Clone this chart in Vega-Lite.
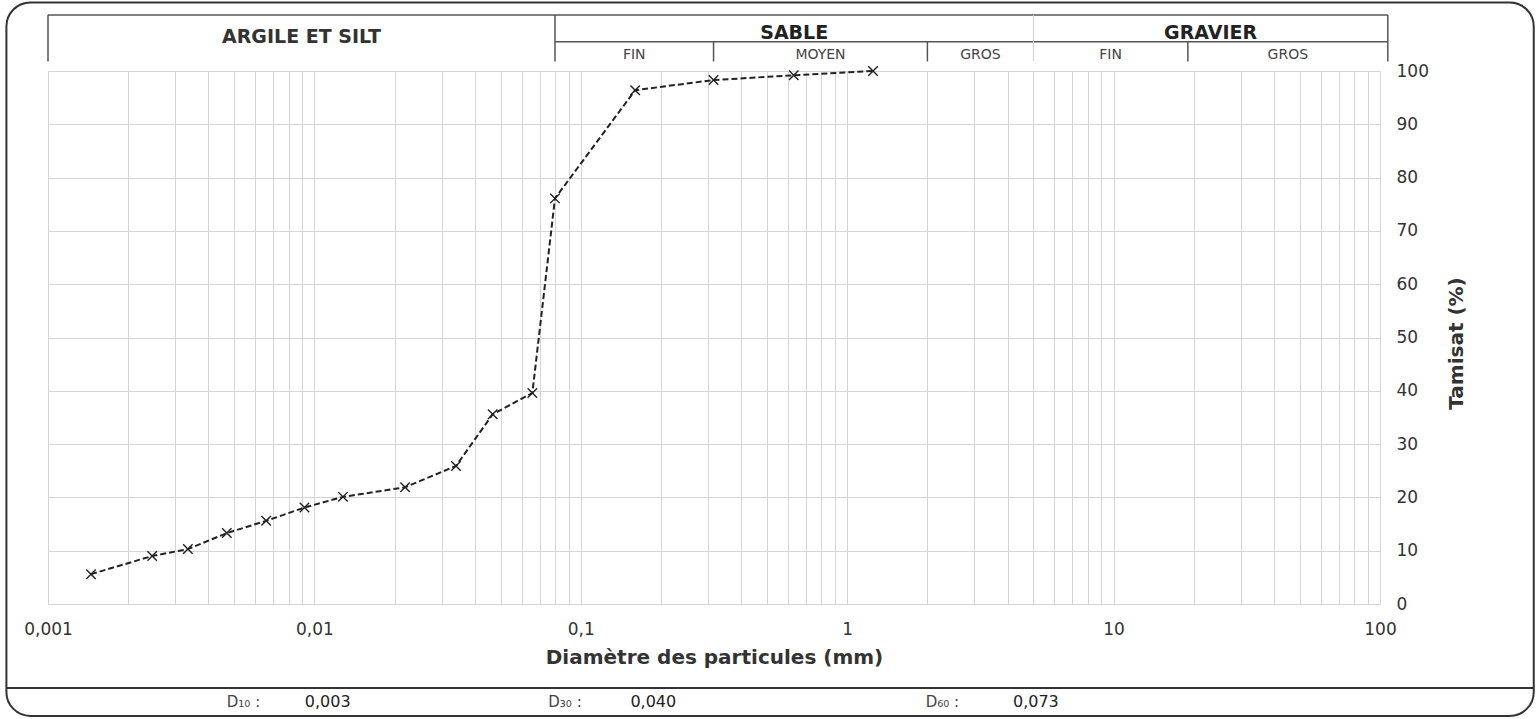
{
  "$schema": "https://vega.github.io/schema/vega-lite/v6.json",
  "width": 1332,
  "height": 533,
  "autosize": {"type": "none"},
  "padding": {"left": 48, "top": 71, "right": 159, "bottom": 115},
  "background": "white",
  "config": {
    "view": {"stroke": null},
    "font": "DejaVu Sans",
    "text": {"font": "DejaVu Sans", "color": "#333"}
  },
  "datasets": {
    "courbe": [
      {"d": 0.00145, "p": 5.6},
      {"d": 0.00246, "p": 9.0},
      {"d": 0.00335, "p": 10.3},
      {"d": 0.00469, "p": 13.3},
      {"d": 0.00659, "p": 15.6},
      {"d": 0.00918, "p": 18.1},
      {"d": 0.0128, "p": 20.1},
      {"d": 0.0219, "p": 21.9},
      {"d": 0.034, "p": 25.9},
      {"d": 0.0467, "p": 35.6},
      {"d": 0.0658, "p": 39.6},
      {"d": 0.08, "p": 76.1},
      {"d": 0.16, "p": 96.4},
      {"d": 0.315, "p": 98.3},
      {"d": 0.63, "p": 99.2},
      {"d": 1.25, "p": 100}
    ],
    "classes": [
      {"nom": "ARGILE ET SILT", "de": 0.001, "a": 0.08, "rang": "groupe"},
      {"nom": "SABLE", "de": 0.08, "a": 5, "rang": "groupe"},
      {"nom": "GRAVIER", "de": 5, "a": 107, "rang": "groupe"},
      {"nom": "FIN", "de": 0.08, "a": 0.315, "rang": "sous"},
      {"nom": "MOYEN", "de": 0.315, "a": 2, "rang": "sous"},
      {"nom": "GROS", "de": 2, "a": 5, "rang": "sous"},
      {"nom": "FIN", "de": 5, "a": 19, "rang": "sous"},
      {"nom": "GROS", "de": 19, "a": 107, "rang": "sous"}
    ],
    "limites": [
      {"d": 0.001, "type": "groupe"},
      {"d": 0.08, "type": "groupe"},
      {"d": 5, "type": "discret"},
      {"d": 107, "type": "groupe"},
      {"d": 0.315, "type": "sous"},
      {"d": 2, "type": "sous"},
      {"d": 19, "type": "sous"}
    ],
    "dvaleurs": [
      {"nom": "D₁₀ :", "valeur": "0,003", "pos": 0.00469, "posv": 0.0092},
      {"nom": "D₃₀ :", "valeur": "0,040", "pos": 0.0755, "posv": 0.1535},
      {"nom": "D₆₀ :", "valeur": "0,073", "pos": 1.97, "posv": 4.19}
    ],
    "un": [{}]
  },
  "layer": [
    {
      "data": {"name": "courbe"},
      "mark": {"type": "line", "color": "#222", "strokeWidth": 2, "strokeDash": [6, 3]},
      "encoding": {
        "x": {
          "field": "d", "type": "quantitative",
          "scale": {"type": "log", "domain": [0.001, 100], "nice": false},
          "axis": {
            "orient": "bottom",
            "values": [0.001,0.002,0.003,0.004,0.005,0.006,0.007,0.008,0.009,0.01,0.02,0.03,0.04,0.05,0.06,0.07,0.08,0.09,0.1,0.2,0.3,0.4,0.5,0.6,0.7,0.8,0.9,1,2,3,4,5,6,7,8,9,10,20,30,40,50,60,70,80,90,100],
            "labelExpr": "datum.value == 0.001 ? '0,001' : datum.value == 0.01 ? '0,01' : datum.value == 0.1 ? '0,1' : datum.value == 1 ? '1' : datum.value == 10 ? '10' : datum.value == 100 ? '100' : ''",
            "domain": false, "ticks": false,
            "grid": true, "gridColor": "#d4d4d4", "gridWidth": 1,
            "labelFont": "DejaVu Sans", "labelFontSize": 17, "labelColor": "#333",
            "labelPadding": 17, "labelOverlap": false, "labelFlush": false,
            "title": "Diamètre des particules (mm)",
            "titleFont": "DejaVu Sans", "titleFontSize": 20, "titleFontWeight": "bold",
            "titleColor": "#333", "titlePadding": 10
          }
        },
        "y": {
          "field": "p", "type": "quantitative",
          "scale": {"domain": [0, 100], "nice": false},
          "axis": {
            "orient": "right",
            "values": [0,10,20,30,40,50,60,70,80,90,100],
            "domain": false, "ticks": false,
            "grid": true, "gridColor": "#d4d4d4", "gridWidth": 1,
            "labelFont": "DejaVu Sans", "labelFontSize": 17, "labelColor": "#333",
            "labelPadding": 16,
            "title": "Tamisat (%)",
            "titleFont": "DejaVu Sans", "titleFontSize": 20, "titleFontWeight": "bold",
            "titleColor": "#333", "titleAngle": 270,
            "titleX": 76, "titleY": 272, "titleAlign": "center", "titleBaseline": "middle"
          }
        }
      }
    },
    {
      "data": {"name": "courbe"},
      "mark": {"type": "point", "shape": "M-1,-1L1,1M-1,1L1,-1", "filled": false, "size": 90, "stroke": "#222", "strokeWidth": 1.4, "opacity": 1},
      "encoding": {
        "x": {"field": "d", "type": "quantitative"},
        "y": {"field": "p", "type": "quantitative"}
      }
    },
    {
      "data": {"name": "un"},
      "mark": {"type": "rule", "color": "#555", "strokeWidth": 1.5},
      "encoding": {"x": {"datum": 0.001}, "x2": {"datum": 107}, "y": {"datum": 110.5}}
    },
    {
      "data": {"name": "un"},
      "mark": {"type": "rule", "color": "#555", "strokeWidth": 1.5},
      "encoding": {"x": {"datum": 0.08}, "x2": {"datum": 107}, "y": {"datum": 105.5}}
    },
    {
      "data": {"name": "limites"},
      "transform": [{"filter": "datum.type == 'groupe'"}],
      "mark": {"type": "rule", "color": "#555", "strokeWidth": 1.5},
      "encoding": {"x": {"field": "d", "type": "quantitative"}, "y": {"datum": 110.5}, "y2": {"datum": 101.8}}
    },
    {
      "data": {"name": "limites"},
      "transform": [{"filter": "datum.type == 'discret'"}],
      "mark": {"type": "rule", "color": "#d0d0d0", "strokeWidth": 1},
      "encoding": {"x": {"field": "d", "type": "quantitative"}, "y": {"datum": 110.5}, "y2": {"datum": 101.8}}
    },
    {
      "data": {"name": "limites"},
      "transform": [{"filter": "datum.type == 'sous'"}],
      "mark": {"type": "rule", "color": "#555", "strokeWidth": 1.5},
      "encoding": {"x": {"field": "d", "type": "quantitative"}, "y": {"datum": 105.5}, "y2": {"datum": 101.8}}
    },
    {
      "data": {"name": "classes"},
      "transform": [{"filter": "datum.nom == 'ARGILE ET SILT'"}, {"calculate": "sqrt(datum.de * datum.a)", "as": "milieu"}],
      "mark": {"type": "text", "font": "DejaVu Sans", "fontWeight": "bold", "fontSize": 19, "color": "#333", "baseline": "middle", "align": "center"},
      "encoding": {"x": {"field": "milieu", "type": "quantitative"}, "y": {"datum": 106.4}, "text": {"field": "nom"}}
    },
    {
      "data": {"name": "classes"},
      "transform": [{"filter": "datum.rang == 'groupe' && datum.nom != 'ARGILE ET SILT'"}, {"calculate": "sqrt(datum.de * datum.a)", "as": "milieu"}],
      "mark": {"type": "text", "font": "DejaVu Sans", "fontWeight": "bold", "fontSize": 19, "color": "#222", "baseline": "middle", "align": "center"},
      "encoding": {"x": {"field": "milieu", "type": "quantitative"}, "y": {"datum": 107.2}, "text": {"field": "nom"}}
    },
    {
      "data": {"name": "classes"},
      "transform": [{"filter": "datum.rang == 'sous'"}, {"calculate": "sqrt(datum.de * datum.a)", "as": "milieu"}],
      "mark": {"type": "text", "font": "DejaVu Sans", "fontSize": 14, "color": "#444", "baseline": "middle", "align": "center"},
      "encoding": {"x": {"field": "milieu", "type": "quantitative"}, "y": {"datum": 103.0}, "text": {"field": "nom"}}
    },
    {
      "data": {"name": "un"},
      "mark": {"type": "rect", "fill": null, "fillOpacity": 0, "stroke": "#333", "strokeWidth": 2, "cornerRadius": 24},
      "encoding": {"x": {"datum": 0.000698}, "x2": {"datum": 377.7}, "y": {"datum": 112.85}, "y2": {"datum": -21.0}}
    },
    {
      "data": {"name": "un"},
      "mark": {"type": "rule", "color": "#333", "strokeWidth": 2},
      "encoding": {"x": {"datum": 0.000698}, "x2": {"datum": 377.7}, "y": {"datum": -15.76}}
    },
    {
      "data": {"name": "dvaleurs"},
      "mark": {"type": "text", "font": "DejaVu Sans", "fontSize": 15, "color": "#444", "align": "left", "baseline": "middle"},
      "encoding": {"x": {"field": "pos", "type": "quantitative"}, "y": {"datum": -18.4}, "text": {"field": "nom"}}
    },
    {
      "data": {"name": "dvaleurs"},
      "mark": {"type": "text", "font": "DejaVu Sans", "fontSize": 16, "color": "#222", "align": "left", "baseline": "middle"},
      "encoding": {"x": {"field": "posv", "type": "quantitative"}, "y": {"datum": -18.4}, "text": {"field": "valeur"}}
    }
  ]
}
